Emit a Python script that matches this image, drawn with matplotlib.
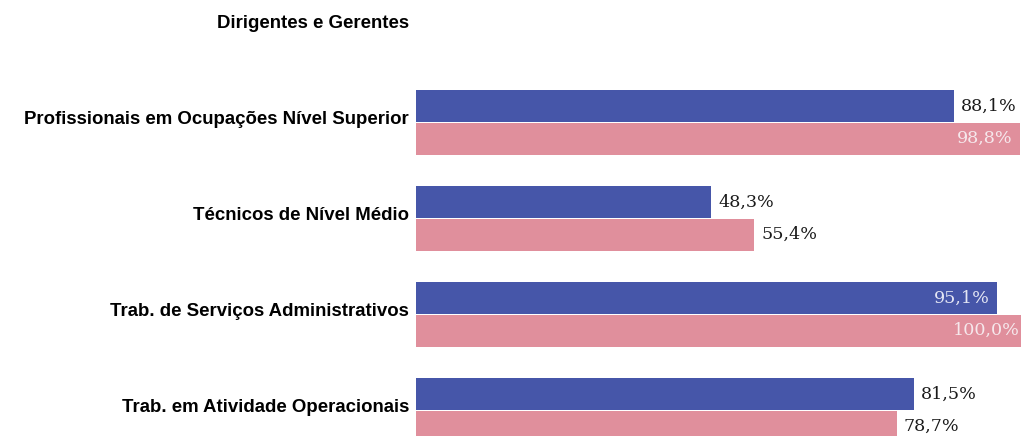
import numpy as np
import matplotlib.pyplot as plt

CATEGORIES = [
    "Dirigentes e Gerentes",
    "Profissionais em Ocupações Nível Superior",
    "Técnicos de Nível Médio",
    "Trab. de Serviços Administrativos",
    "Trab. em Atividade Operacionais",
]
SERIES_A = [np.nan, 88.1, 48.3, 95.1, 81.5]
SERIES_B = [np.nan, 98.8, 55.4, 100.0, 78.7]

BLUE = "#4656A9"
PINK = "#E08F9C"
BAR_H = 0.335
INSIDE_LIMIT = 90.0


def fmt(v):
    return f"{v:.1f}%".replace(".", ",")


fig = plt.figure(figsize=(10.21, 4.36), dpi=100)
ax = fig.add_axes([416 / 1021, 0, 611 / 1021, 1])

y = np.arange(len(CATEGORIES))
ya = y - 0.115
yb = y + 0.225

ax.barh(ya, SERIES_A, height=BAR_H, color=BLUE, linewidth=0)
ax.barh(yb, SERIES_B, height=BAR_H, color=PINK, linewidth=0)

for pos, vals, inner in [(ya, SERIES_A, "#E4E6F4"), (yb, SERIES_B, "#F6E8EC")]:
    for yy, v in zip(pos, vals):
        if np.isnan(v):
            continue
        if v > INSIDE_LIMIT:
            ax.annotate(fmt(v), (v, yy), xytext=(-5, 0), textcoords="offset points",
                        ha="right", va="center", fontsize=12.6, color=inner,
                        family="DejaVu Serif")
        else:
            ax.annotate(fmt(v), (v, yy), xytext=(5, 0), textcoords="offset points",
                        ha="left", va="center", fontsize=12.6, color="#1a1a1a",
                        family="DejaVu Serif")

ax.set_xlim(0, 100)
ax.set_ylim((436 - 21) / 96, -21 / 96)
ax.set_yticks(y)
ax.set_yticklabels(CATEGORIES, fontsize=13.45, fontweight="bold", family="Liberation Sans")
ax.tick_params(axis="y", length=0, pad=5)
ax.set_xticks([])
for side in ax.spines.values():
    side.set_visible(False)

fig.savefig("out.png", dpi=100)
